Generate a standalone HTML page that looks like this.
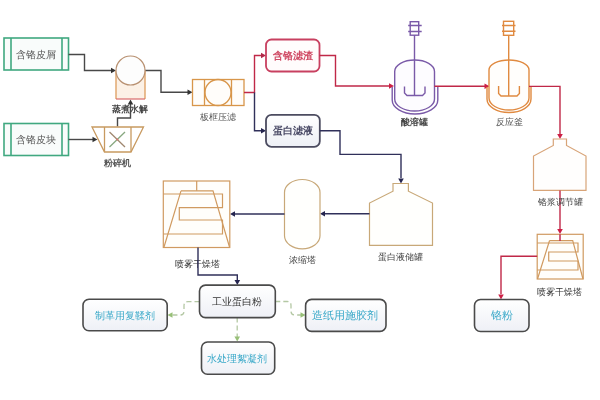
<!DOCTYPE html>
<html><head><meta charset="utf-8">
<style>
html,body{margin:0;padding:0;background:#fff;width:600px;height:400px;overflow:hidden}
svg{display:block;filter:blur(0.35px)}
text{font-family:"Liberation Sans",sans-serif;text-anchor:middle;dominant-baseline:central}
.sf{font-family:"Liberation Serif",serif}
</style></head>
<body>
<svg width="600" height="400" viewBox="0 0 600 400">
<defs>
<linearGradient id="g1" x1="0" y1="0" x2="0" y2="1"><stop offset="0" stop-color="#ffffff"/><stop offset="1" stop-color="#eef0f6"/></linearGradient>
</defs>
<rect width="600" height="400" fill="#fff"/>

<!-- ===== left inputs ===== -->
<g fill="none" stroke="#40a880" stroke-width="1.6">
<rect x="4" y="38" width="64.5" height="32" fill="#f9fcfb"/>
<path d="M11,38V70M62,38V70"/>
<rect x="4" y="123.5" width="64.5" height="32" fill="#f9fcfb"/>
<path d="M11,123.5V155.5M62,123.5V155.5"/>
</g>
<text x="35.5" y="54.5" class="sf" font-size="10.2" fill="#555">含铬皮屑</text>
<text x="35.5" y="139.3" class="sf" font-size="10.2" fill="#555">含铬皮块</text>

<!-- dark lines -->
<g fill="none" stroke="#484848" stroke-width="1.4">
<path d="M68.5,54.5H84.5V70.5H112"/>
<path d="M68.5,139.5H93"/>
<path d="M117.5,126.5V118H130.5V104"/>
<path d="M145,70.5H161V92.3H188"/>
</g>
<g fill="#333">
<path d="M116,70.5l-5,-2.8v5.6z"/>
<path d="M97.5,139.5l-5,-2.8v5.6z"/>
<path d="M130.5,99.5l-2.8,5h5.6z"/>
<path d="M192.5,92.3l-5,-2.8v5.6z"/>
</g>

<!-- hydrolysis -->
<rect x="116" y="70.5" width="29" height="28.5" fill="#fcf1e6"/>
<path d="M116,70.5V99M145,70.5V99" fill="none" stroke="#e0a468" stroke-width="1.4"/>
<circle cx="130.5" cy="70.5" r="14.5" fill="#fdfdfd" stroke="#b89070" stroke-width="1.2"/>
<path d="M116,99H145" stroke="#d86a6a" stroke-width="1.2"/>
<text x="130" y="109" font-size="9" fill="#444" font-weight="bold">蒸煮水解</text>

<!-- crusher -->
<g fill="none" stroke="#c89a60" stroke-width="1.3">
<path d="M92,127H143.5L131,152H104.5Z"/>
<path d="M104.5,127V152M131,127V152"/>
</g>
<path d="M109.5,132L125,147" stroke="#a08870" stroke-width="1.3"/>
<path d="M125,132L109.5,147" stroke="#88a880" stroke-width="1.3"/>
<circle cx="117.3" cy="139.5" r="1" fill="#e07070"/>
<text x="117.5" y="163" font-size="9" fill="#555" font-weight="bold">粉碎机</text>

<!-- plate filter -->
<g fill="none" stroke="#d8964a" stroke-width="1.3">
<rect x="192.5" y="79.5" width="51.5" height="26" fill="#fffdfa"/>
<path d="M204.5,79.5V105.5M231.5,79.5V105.5"/>
<circle cx="218" cy="92.5" r="13"/>
</g>
<text x="218" y="116.5" font-size="9" fill="#555" class="sf">板框压滤</text>

<!-- splitter -->
<path d="M244,92.5H254.5V55.5H261" fill="none" stroke="#c02848" stroke-width="1.4"/>
<path d="M266,55.5l-5,-2.8v5.6z" fill="#b02848"/>
<path d="M254.5,92.5V130.8H261" fill="none" stroke="#30305a" stroke-width="1.4"/>
<path d="M266,130.8l-5,-2.8v5.6z" fill="#25254f"/>

<!-- red box -->
<rect x="266" y="39.5" width="53.5" height="32" rx="5.5" fill="#fffcfc" stroke="#c84060" stroke-width="1.8"/>
<text x="292.8" y="55.5" font-size="10.3" fill="#d04a64" font-weight="bold">含铬滤渣</text>
<!-- blue box -->
<rect x="266" y="114.8" width="53.8" height="32" rx="5.5" fill="url(#g1)" stroke="#4c4c60" stroke-width="1.8"/>
<text x="292.8" y="130.8" font-size="10.3" fill="#4a4a66" class="sf" font-weight="bold">蛋白滤液</text>

<!-- red line to acid tank -->
<path d="M319.5,55.5H335.5V86H389" fill="none" stroke="#c02848" stroke-width="1.4"/>
<path d="M394,86l-5,-2.8v5.6z" fill="#cc1f45"/>

<!-- acid tank -->
<g fill="none" stroke="#7a5aa8" stroke-width="1.4">
<path d="M394.7,71.5A19.9,11.5 0 0 1 434.5,71.5V99A19.9,12 0 0 1 394.7,99Z" fill="#fdfcff"/>
<path d="M392.2,87V100A22.8,14 0 0 0 437.8,100V87"/>
<rect x="410.2" y="21.7" width="8.5" height="13.5"/>
<path d="M408.2,25.5H421.7M408.2,31.5H421.7M414.5,35V95.5"/>
<path d="M404.5,86.5V93L407,95.5H422.5L425,93V86.5"/>
</g>
<text x="414" y="122" font-size="9" fill="#444" font-weight="bold">酸溶罐</text>

<!-- acid -> reactor -->
<path d="M434.5,86.3H485" fill="none" stroke="#c02848" stroke-width="1.4"/>
<path d="M489.5,86.3l-5,-2.8v5.6z" fill="#cc1f45"/>

<!-- reactor -->
<g fill="none" stroke="#e08a40" stroke-width="1.4">
<path d="M489,70A20,10 0 0 1 529,70V98A20,12 0 0 1 489,98Z" fill="#fffefc"/>
<path d="M487,87V99A22,13.5 0 0 0 531,99V87"/>
<rect x="503.5" y="21.3" width="10.2" height="14"/>
<path d="M502,25.5H515.5M502,31.2H515.5M508.7,35V96"/>
<path d="M498.6,86V93.5L501,96H517L519.4,93.5V86"/>
</g>
<text x="509" y="122" font-size="9" fill="#555" class="sf">反应釜</text>

<!-- reactor -> slurry tank -->
<path d="M529,86.4H560V134" fill="none" stroke="#c02848" stroke-width="1.4"/>
<path d="M560,139l-2.8,-5h5.6z" fill="#cc1f45"/>

<!-- slurry tank -->
<path d="M553.3,139H566.5V145.5L586,156V190.4H533.5V156L553.3,145.5Z" fill="#fffefd" stroke="#d8a478" stroke-width="1.2"/>
<path d="M560,190.4V229" fill="none" stroke="#c02848" stroke-width="1.4"/>
<path d="M560,234l-2.8,-5h5.6z" fill="#cc1f45"/>
<text x="560" y="201.5" font-size="9.1" fill="#444" class="sf">铬浆调节罐</text>

<!-- spray dryer 2 -->
<g fill="none" stroke="#d09a60" stroke-width="1.2">
<rect x="537.2" y="234.3" width="46" height="44.7" fill="#fffefb"/>
<path d="M549.5,240.7H572.7L583,279M549.5,240.7L537.5,279"/>
<path d="M537.2,243H578V252H548.7V261H578V270H537.2"/>
</g>
<path d="M560,234.3V241" stroke="#c02850" stroke-width="1.5"/>
<text x="559.5" y="292.4" font-size="9" fill="#333">喷雾干燥塔</text>

<!-- dryer2 -> chrome powder -->
<path d="M537.2,256.2H501V294" fill="none" stroke="#c02848" stroke-width="1.4"/>
<path d="M501,299.5l-2.8,-5h5.6z" fill="#cc1f45"/>
<rect x="474.5" y="299.5" width="54.5" height="32" rx="6" fill="url(#g1)" stroke="#4a4a4a" stroke-width="1.6"/>
<text x="501.5" y="315.4" font-size="11" fill="#38a8c8">铬粉</text>

<!-- blue line to storage -->
<path d="M319.8,130.8H340V154.4H401V178" fill="none" stroke="#30305a" stroke-width="1.4"/>
<path d="M401,183.5l-2.8,-5h5.6z" fill="#25254f"/>

<!-- storage tank -->
<path d="M393,183.5H408.4V191.2L432.5,203V245.3H369.5V203L393,191.2Z" fill="#fffffd" stroke="#c8a878" stroke-width="1.2"/>
<text x="400.5" y="257.2" font-size="8.6" fill="#444">蛋白液储罐</text>
<path d="M369.5,213.8H325" fill="none" stroke="#30305a" stroke-width="1.4"/>
<path d="M320,213.8l5,-2.8v5.6z" fill="#25254f"/>

<!-- tower -->
<rect x="284.5" y="179.5" width="35.5" height="69.3" rx="17.75" ry="13" fill="#fffffd" stroke="#c8a878" stroke-width="1.2"/>
<text x="302" y="259.5" font-size="8.7" fill="#444">浓缩塔</text>
<path d="M284.5,214H235" fill="none" stroke="#30305a" stroke-width="1.4"/>
<path d="M230,214l5,-2.8v5.6z" fill="#25254f"/>

<!-- spray dryer 1 -->
<g fill="none" stroke="#d09a60" stroke-width="1.2">
<rect x="163.3" y="181" width="66.5" height="66.5" fill="#fffefb"/>
<path d="M196.7,181V190.8"/>
<path d="M181,190.8H213L229.5,247M181,190.8L164,247"/>
<path d="M163.3,194H222.5V207.7H179.3V220H222.5V234H163.3"/>
</g>
<text x="197" y="263.7" font-size="9.2" fill="#333">喷雾干燥塔</text>
<path d="M198,247.5V275H237.3V280" fill="none" stroke="#30305a" stroke-width="1.4"/>
<path d="M237.3,285l-2.8,-5h5.6z" fill="#25254f"/>

<!-- products -->
<g fill="none" stroke="#b4c8a4" stroke-width="1.3" stroke-dasharray="5,3">
<path d="M199.5,301.7H188Q184,301.7 184,305.7V311Q184,315 180,315H172"/>
<path d="M275.3,301.5H287Q291,301.5 291,305.5V311Q291,315 295,315H301"/>
<path d="M237.2,317.6V337"/>
</g>
<g fill="#98c078">
<path d="M167.5,315l5,-2.8v5.6z"/>
<path d="M305.5,315l-5,-2.8v5.6z"/>
<path d="M237.2,341.5l-2.8,-5h5.6z"/>
</g>
<rect x="199.5" y="285.1" width="75.8" height="32.5" rx="6" fill="url(#g1)" stroke="#4a4a4a" stroke-width="1.6"/>
<text x="237" y="301.6" font-size="10.2" fill="#333">工业蛋白粉</text>
<rect x="83" y="299.2" width="84.2" height="31.6" rx="6" fill="url(#g1)" stroke="#4a4a4a" stroke-width="1.6"/>
<text x="124.7" y="315" font-size="10.3" fill="#38a8c8">制革用复鞣剂</text>
<rect x="305.6" y="299.4" width="80.4" height="32" rx="6" fill="url(#g1)" stroke="#4a4a4a" stroke-width="1.6"/>
<text x="345.3" y="315.4" font-size="10.5" fill="#38a8c8">造纸用施胶剂</text>
<rect x="201.5" y="342" width="73.2" height="32.2" rx="6" fill="url(#g1)" stroke="#4a4a4a" stroke-width="1.6"/>
<text x="237" y="358.3" font-size="10.4" fill="#38a8c8">水处理絮凝剂</text>
</svg>
</body></html>
